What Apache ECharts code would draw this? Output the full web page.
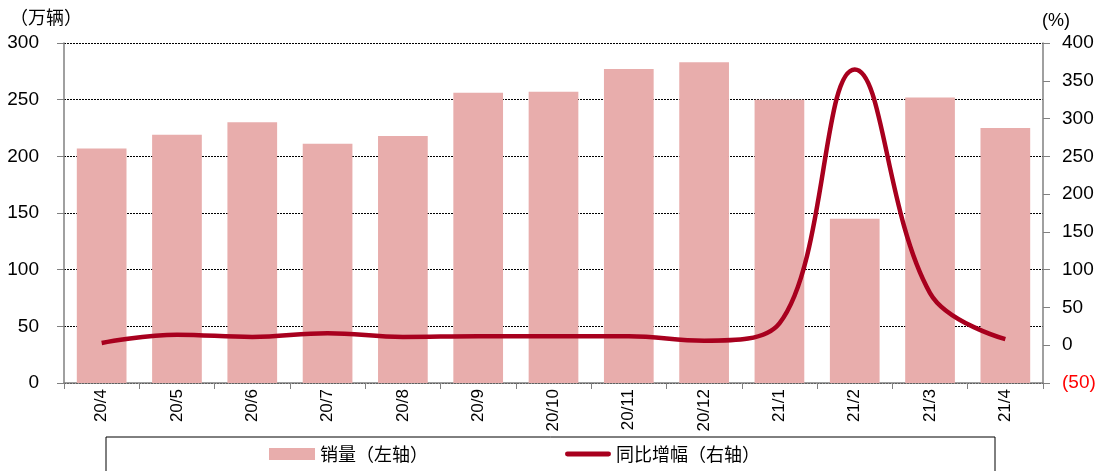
<!DOCTYPE html>
<html>
<head>
<meta charset="utf-8">
<script src="https://cdn.jsdelivr.net/npm/echarts@6/dist/echarts.min.js"></script>
<style>
  html, body { margin: 0; padding: 0; background: #fff; }
  #main { width: 1105px; height: 471px; }
</style>
</head>
<body>
<div id="main"></div>
<script>
// 月份
var months = ['20/4', '20/5', '20/6', '20/7', '20/8', '20/9', '20/10', '20/11', '20/12', '21/1', '21/2', '21/3', '21/4'];
// 销量（万辆）
var sales = [207, 219, 230, 211, 218, 256, 257, 277, 283, 250, 145, 252, 225];
// 同比增幅（%）
var yoy = [3, 14, 11, 16, 11, 12, 12, 12, 6, 29, 365, 69, 8];

var chart = echarts.init(document.getElementById('main'));
var latin = '"Liberation Sans", Arial, sans-serif';
var cjk = '"Noto Sans CJK SC", sans-serif';

var option = {
    backgroundColor: '#fff',
    animation: false,
    grid: { left: 64, right: 62, top: 43, bottom: 88 },
    graphic: [
        {
            type: 'rect',
            shape: { x: 106, y: 437, width: 889, height: 40 },
            style: { fill: 'none', stroke: '#000', lineWidth: 1 }
        },
        {
            type: 'text', left: 10, top: 8,
            style: { text: '（万辆）', font: '18px ' + cjk, fill: '#000' }
        },
        {
            type: 'text', left: 1042, top: 12,
            style: { text: '(%)', font: '18px ' + latin, fill: '#000' }
        }
    ],
    legend: {
        bottom: 3,
        left: 264,
        itemGap: 137,
        itemWidth: 46,
        itemHeight: 12,
        textStyle: { fontFamily: cjk, fontSize: 18, color: '#000' },
        data: [
            { name: '销量（左轴）', icon: 'rect' },
            { name: '同比增幅（右轴）', icon: 'path://M2,0 L44,0 A2.5,2.5 0 0 1 44,5 L2,5 A2.5,2.5 0 0 1 2,0 Z' }
        ]
    },
    xAxis: {
        type: 'category',
        data: months,
        axisLine: { lineStyle: { color: '#808080', width: 1.5 } },
        axisTick: { show: true, length: 6, lineStyle: { color: '#808080' } },
        axisLabel: { rotate: 90, fontFamily: latin, fontSize: 17, color: '#000', margin: 6 }
    },
    yAxis: [
        {
            type: 'value',
            min: 0, max: 300, interval: 50,
            axisLine: { show: true, lineStyle: { color: '#808080', width: 1.5 } },
            axisTick: { show: true, length: 7, lineStyle: { color: '#808080' } },
            axisLabel: { fontFamily: latin, fontSize: 19, color: '#000', margin: 25 },
            splitLine: { show: true, lineStyle: { color: '#000', type: [2, 1], width: 1 } }
        },
        {
            type: 'value',
            min: -50, max: 400, interval: 50,
            axisLine: { show: true, lineStyle: { color: '#808080', width: 1.5 } },
            axisTick: { show: true, length: 7, lineStyle: { color: '#808080' } },
            axisLabel: {
                fontFamily: latin, fontSize: 19, margin: 19,
                formatter: function (v) { return v < 0 ? '(' + (-v) + ')' : String(v); },
                color: function (v) { return v < 0 ? '#ff0000' : '#000'; }
            },
            splitLine: { show: false }
        }
    ],
    series: [
        {
            name: '销量（左轴）',
            type: 'bar',
            yAxisIndex: 0,
            barCategoryGap: '34%',
            itemStyle: { color: '#e8adac' },
            data: sales
        },
        {
            name: '同比增幅（右轴）',
            type: 'line',
            yAxisIndex: 1,
            smooth: 0.4,
            symbol: 'none',
            lineStyle: { color: '#a8001e', width: 4.5 },
            itemStyle: { color: '#a8001e' },
            data: yoy
        }
    ]
};

chart.setOption(option);
</script>
</body>
</html>
